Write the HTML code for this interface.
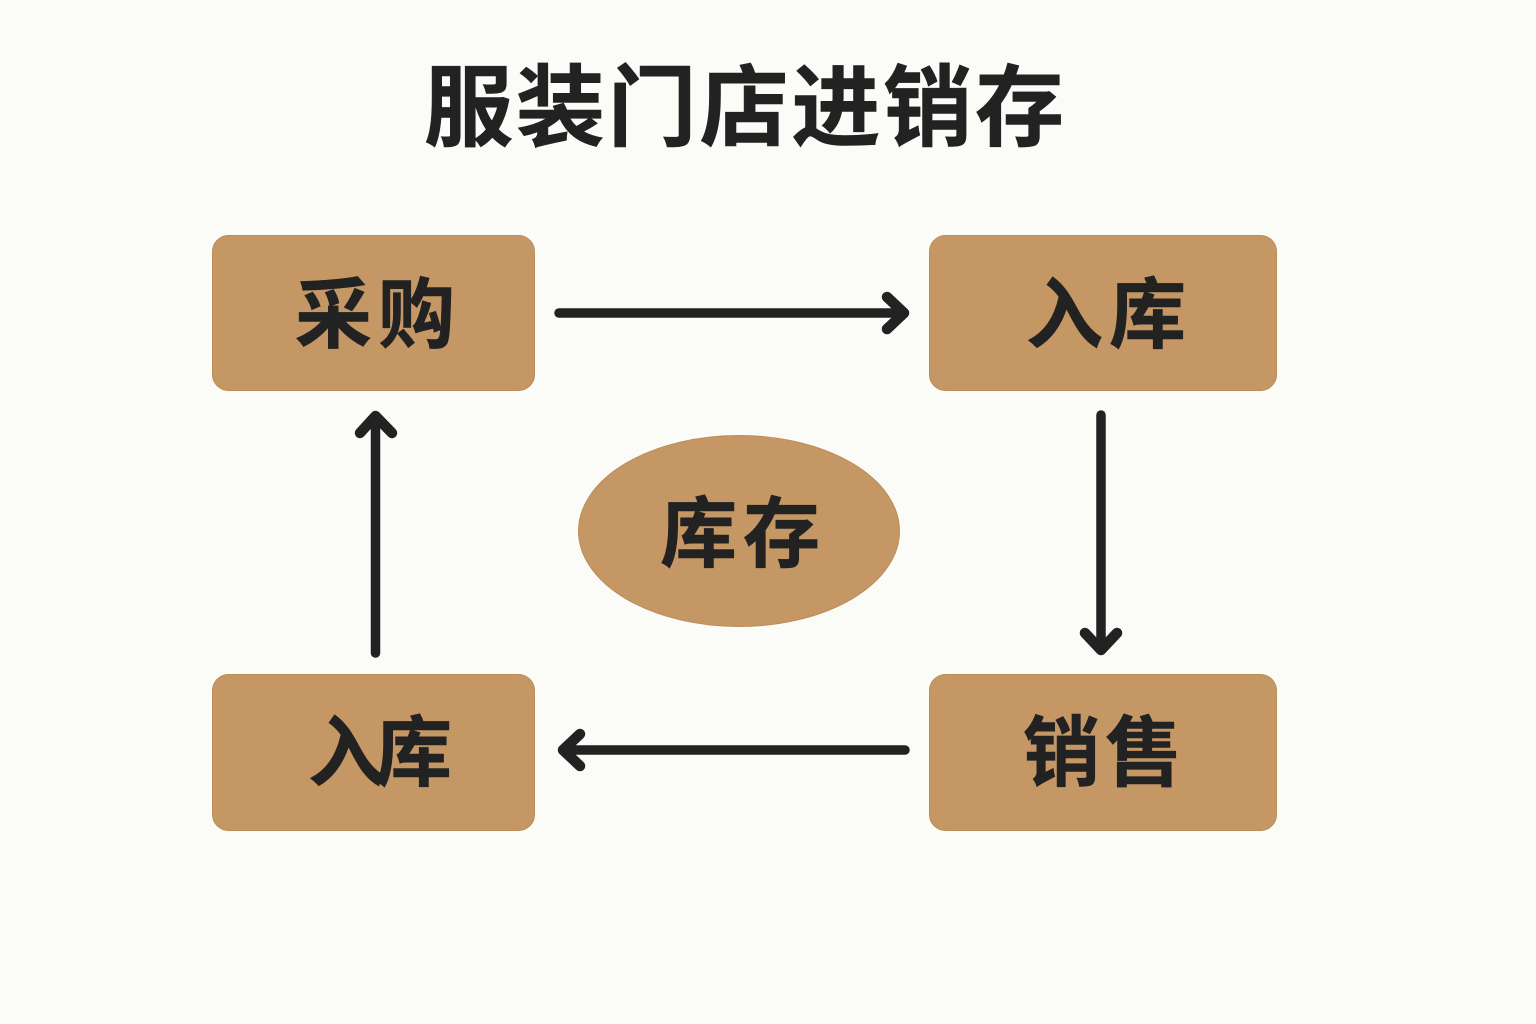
<!DOCTYPE html>
<html lang="zh">
<head>
<meta charset="utf-8">
<title>服装门店进销存</title>
<style>
html,body{margin:0;padding:0;width:1536px;height:1024px;overflow:hidden;background:#fbfbf7}
svg{display:block}
text{font-family:"Liberation Sans","Noto Sans CJK SC",sans-serif;font-weight:700;fill:#222222;stroke:#222222;stroke-width:0.6px}
</style>
</head>
<body>
<svg width="1536" height="1024" viewBox="0 0 1536 1024" xmlns="http://www.w3.org/2000/svg">
<rect width="1536" height="1024" fill="#fbfbf7"/>
<text x="744" y="139" font-size="89" text-anchor="middle" textLength="640" lengthAdjust="spacing">服装门店进销存</text>
<g fill="#c49764" stroke="#bb8d57" stroke-width="1">
<rect x="212.5" y="235.5" width="322" height="155" rx="16"/>
<rect x="929.5" y="235.5" width="347" height="155" rx="16"/>
<rect x="212.5" y="674.5" width="322" height="156" rx="16"/>
<rect x="929.500" y="674.5" width="347" height="156" rx="16"/>
<ellipse cx="739" cy="531" rx="160.5" ry="95.5"/>
</g>
<g font-size="77" text-anchor="middle">
<text x="375" y="342" textLength="160" lengthAdjust="spacing">采购</text>
<text x="1106" y="342" textLength="160" lengthAdjust="spacing">入库</text>
<text x="740" y="561" textLength="160" lengthAdjust="spacing">库存</text>
<text x="380" y="780" textLength="144" lengthAdjust="spacing">入库</text>
<text x="1102.5" y="780" textLength="159" lengthAdjust="spacing">销售</text>
</g>
<g fill="none" stroke="#222222" stroke-width="9.5" stroke-linecap="round" stroke-linejoin="round">
<path d="M559 313H903"/>
<path d="M1101 415V649"/>
<path d="M905 750H564"/>
<path d="M375.500 653V418"/>
</g>
<g fill="none" stroke="#222222" stroke-width="10.5" stroke-linecap="round" stroke-linejoin="round">
<path d="M887 297L904 313L887 329"/>
<path d="M1085 633L1101 650L1117 633"/>
<path d="M580 734L563 750L580 766"/>
<path d="M360 433L375.500 416L392 433"/>
</g>
</svg>
</body>
</html>
